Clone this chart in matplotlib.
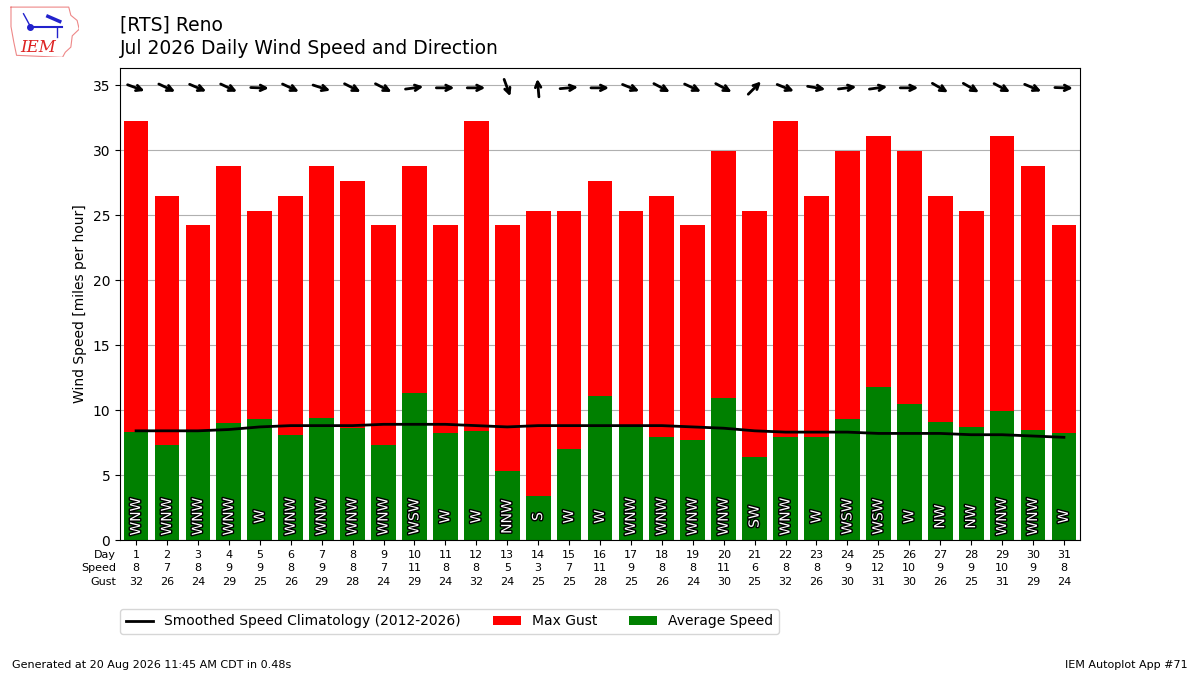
import numpy as np
import matplotlib
matplotlib.use('Agg')
import matplotlib.pyplot as plt
import matplotlib.patheffects as pe
import matplotlib.transforms as mtrans

days = list(range(1, 32))
avg_speed = [8.3, 7.3, 8.4, 9.0, 9.3, 8.1, 9.4, 8.6, 7.3, 11.3, 8.2, 8.4, 5.3, 3.4, 7.0, 11.1,
             8.8, 7.9, 7.7, 10.9, 6.4, 7.9, 7.9, 9.3, 11.8, 10.5, 9.1, 8.7, 9.9, 8.5, 8.2]
max_gust = [32.2, 26.5, 24.2, 28.8, 25.3, 26.5, 28.8, 27.6, 24.2, 28.8, 24.2, 32.2, 24.2, 25.3, 25.3, 27.6,
            25.3, 26.5, 24.2, 29.9, 25.3, 32.2, 26.5, 29.9, 31.1, 29.9, 26.5, 25.3, 31.1, 28.8, 24.2]
speed_lbl = [8, 7, 8, 9, 9, 8, 9, 8, 7, 11, 8, 8, 5, 3, 7, 11, 9, 8, 8, 11, 6, 8, 8, 9, 12, 10, 9, 9, 10, 9, 8]
gust_lbl = [32, 26, 24, 29, 25, 26, 29, 28, 24, 29, 24, 32, 24, 25, 25, 28, 25, 26, 24, 30, 25, 32, 26, 30,
            31, 30, 26, 25, 31, 29, 24]
dir_txt = ['WNW', 'WNW', 'WNW', 'WNW', 'W', 'WNW', 'WNW', 'WNW', 'WNW', 'WSW', 'W', 'W', 'NNW', 'S', 'W', 'W',
           'WNW', 'WNW', 'WNW', 'WNW', 'SW', 'WNW', 'W', 'WSW', 'WSW', 'W', 'NW', 'NW', 'WNW', 'WNW', 'W']
dir_deg = [290, 295, 293, 295, 272, 295, 288, 297, 297, 262, 270, 270, 340, 175, 265, 270,
           292, 298, 295, 298, 225, 292, 280, 263, 262, 270, 300, 300, 298, 293, 272]
climo = [8.4, 8.4, 8.4, 8.5, 8.7, 8.8, 8.8, 8.8, 8.9, 8.9, 8.9, 8.8, 8.7, 8.8, 8.8, 8.8,
         8.8, 8.8, 8.7, 8.6, 8.4, 8.3, 8.3, 8.3, 8.2, 8.2, 8.2, 8.1, 8.1, 8.0, 7.9]

fig = plt.figure(figsize=(12, 6.75), dpi=100)
ax = fig.add_axes([0.1, 0.2, 0.8, 0.699])

ax.bar(days, max_gust, width=0.8, color='red', label='Max Gust', zorder=2)
ax.bar(days, avg_speed, width=0.8, color='green', label='Average Speed', zorder=2)
ax.plot(days, climo, color='k', lw=2, label='Smoothed Speed Climatology (2012-2026)', zorder=3)

for d, t in zip(days, dir_txt):
    ax.text(d, 1.8, t, rotation=90, ha='center', va='center', color='white', fontsize=10, zorder=4,
            path_effects=[pe.withStroke(linewidth=2, foreground='k')])

# direction arrows along the 35 line, pointing where the wind blows to
for d, deg in zip(days, dir_deg):
    th = np.radians(deg + 180)
    u, v = np.sin(th), np.cos(th)
    head = ax.transData + mtrans.ScaledTranslation(6.5 * u / 72, (6.5 * v - 2) / 72, fig.dpi_scale_trans)
    tail = ax.transData + mtrans.ScaledTranslation(-6.5 * u / 72, (-6.5 * v - 2) / 72, fig.dpi_scale_trans)
    ax.annotate('', xy=(d, 35), xycoords=head, xytext=(d, 35), textcoords=tail,
                arrowprops=dict(arrowstyle='->', color='k', lw=2, shrinkA=0, shrinkB=0,
                                mutation_scale=10), zorder=5)

ax.set_xlim(0.48, 31.52)
ax.set_ylim(0, 36.3)
ax.set_yticks(range(0, 36, 5))
ax.grid(axis='y', color='#b0b0b0', zorder=0)
ax.set_axisbelow(True)
ax.set_ylabel('Wind Speed [miles per hour]')
ax.set_xticks(days)
ax.set_xticklabels([f'{d}\n{s}\n{g}' for d, s, g in zip(days, speed_lbl, gust_lbl)], fontsize=8,
                   linespacing=1.45)
ax.annotate('Day\nSpeed\nGust', xy=(0, 0), xycoords='axes fraction', xytext=(-3, -7),
            textcoords='offset points', ha='right', va='top', fontsize=8, linespacing=1.45)

h, l = ax.get_legend_handles_labels()
ax.legend(h, l, loc='upper left', bbox_to_anchor=(0, -0.146), borderaxespad=0, ncol=3,
          columnspacing=2.3)

fig.text(0.1, 0.977, '[RTS] Reno\nJul 2026 Daily Wind Speed and Direction', fontsize=13.5, va='top',
         linespacing=1.3)
fig.text(0.01, 0.01, 'Generated at 20 Aug 2026 11:45 AM CDT in 0.48s', fontsize=8)
fig.text(0.99, 0.01, 'IEM Autoplot App #71', fontsize=8, ha='right')

# rough IEM logo
lax = fig.add_axes([0.008, 0.915, 0.058, 0.076])
lax.axis('off')
lax.set_xlim(0, 1)
lax.set_ylim(0, 1)
ox = [0.02, 0.85, 0.88, 0.97, 1.0, 0.9, 0.88, 0.8, 0.76, 0.1, 0.06, 0.02, 0.02]
oy = [0.98, 0.98, 0.82, 0.72, 0.55, 0.42, 0.2, 0.1, 0.0, 0.04, 0.3, 0.6, 0.98]
lax.plot(ox, oy, color='#e88', lw=0.8)
lax.plot([0.3, 0.75], [0.6, 0.6], color='#22c', lw=1.5)
lax.plot([0.3], [0.6], 'o', color='#22c', ms=4)
lax.plot([0.2, 0.3], [0.85, 0.6], color='#22c', lw=1)
lax.plot([0.55, 0.72], [0.8, 0.7], color='#22c', lw=2.5)
lax.plot([0.68, 0.68], [0.6, 0.4], color='#22c', lw=1)
lax.text(0.15, 0.1, 'IEM', color='#d22', fontsize=12, style='italic', family='serif')

fig.savefig('out.png', dpi=100)
